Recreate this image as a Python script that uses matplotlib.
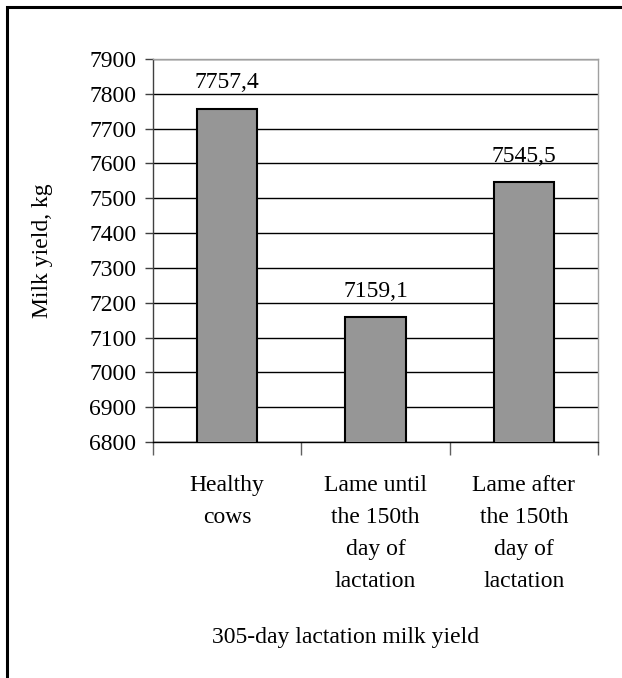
import matplotlib.pyplot as plt
import matplotlib.patches as mpatches

plt.rcParams['font.family'] = ['Liberation Serif', 'DejaVu Serif']

groups = ['Healthy\ncows', 'Lame until\nthe 150th\nday of\nlactation',
          'Lame after\nthe 150th\nday of\nlactation']
milk_yield = [7757.4, 7159.1, 7545.5]
value_labels = ['7757,4', '7159,1', '7545,5']
y_ticks = list(range(6800, 8000, 100))

W, H = 622, 678
fs = 17
fig = plt.figure(figsize=(W / 100, H / 100), dpi=100)
ax = fig.add_axes([153 / W, 1 - 442 / H, (598 - 153) / W, (442 - 59) / H])

# outer frame (only top and left visible in the original crop)
fig.patches.append(mpatches.Rectangle((6.5 / W, -0.1), 1.2, 1 - 6.5 / H + 0.1,
                                      transform=fig.transFigure, fill=False,
                                      edgecolor='black', linewidth=2.2))

x = range(len(groups))
ax.bar(x, milk_yield, width=0.405, color='#969696', edgecolor='black',
       linewidth=1.5, zorder=3)
for xi, v, lab in zip(x, milk_yield, value_labels):
    ax.annotate(lab, (xi, v), xytext=(0, 11), textcoords='offset points',
                ha='center', va='bottom', fontsize=fs)

ax.set_xlim(-0.5, 2.5)
ax.set_ylim(6800, 7900)
ax.set_yticks(y_ticks)
ax.tick_params(axis='y', labelsize=fs, length=6, width=1, color='#404040', pad=6)
ax.yaxis.grid(True, color='black', linewidth=1)
ax.set_axisbelow(True)

ax.set_xticks([0, 1, 2])
ax.set_xticklabels(groups, fontsize=fs, linespacing=1.68)
ax.tick_params(axis='x', length=0, pad=24)
ax.set_xticks([-0.5, 0.5, 1.5, 2.5], minor=True)
ax.tick_params(axis='x', which='minor', length=9, width=1, color='#606060')

ax.spines['left'].set_color('#404040')
ax.spines['bottom'].set_color('black')
ax.spines['top'].set_color('#a0a0a0')
ax.spines['right'].set_color('#a0a0a0')
for s in ax.spines.values():
    s.set_linewidth(1)

ax.set_ylabel('Milk yield, kg', fontsize=fs, labelpad=26)
fig.text(346 / W, 1 - 638 / H, '305-day lactation milk yield',
         ha='center', va='center', fontsize=fs)

fig.savefig('out.png', dpi=100)
